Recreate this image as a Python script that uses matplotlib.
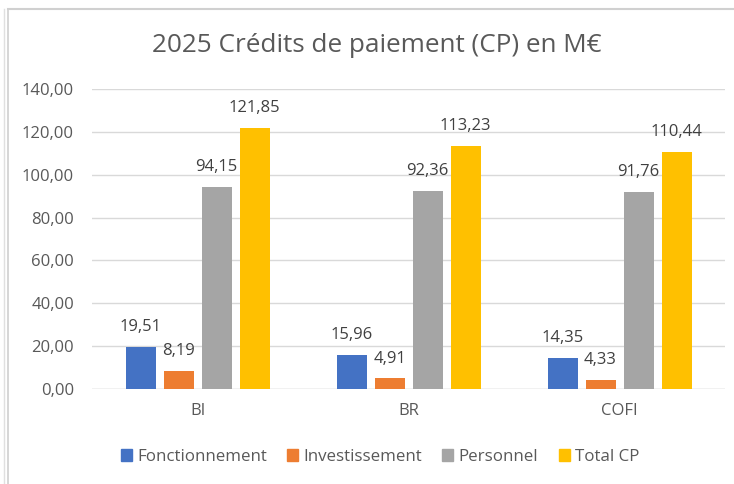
import matplotlib
matplotlib.use("Agg")
import matplotlib.pyplot as plt
import numpy as np
from matplotlib.lines import Line2D
from matplotlib.patches import Rectangle

categories = ["BI", "BR", "COFI"]
series_names = ["Fonctionnement", "Investissement", "Personnel", "Total CP"]
fonctionnement = [19.51, 15.96, 14.35]
investissement = [8.19, 4.91, 4.33]
personnel = [94.15, 92.36, 91.76]
total_cp = [121.85, 113.23, 110.44]
colors = ["#4472C4", "#ED7D31", "#A5A5A5", "#FFC000"]
yticks = [0, 20, 40, 60, 80, 100, 120, 140]

def fr(v):
    return f"{v:.2f}".replace(".", ",")

plt.rcParams['font.family'] = ['Open Sans', 'DejaVu Sans']

fig = plt.figure(figsize=(7.34, 4.84), dpi=100)
ax = fig.add_axes([92/734, 1-389/484, 633/734, 300/484])

series = [fonctionnement, investissement, personnel, total_cp]
x = np.arange(len(categories))
bw = 30/211
pitch = 38/211
for i, (vals, c) in enumerate(zip(series, colors)):
    pos = x + (i - 1.5) * pitch
    ax.bar(pos, vals, width=bw, color=c, label=series_names[i], zorder=3)
    for p, v in zip(pos, vals):
        ax.annotate(fr(v), (p, v), xytext=(0, 11.5), textcoords="offset points",
                    ha="center", va="baseline", fontsize=12, color="#404040", zorder=4)

ax.set_xlim(-0.5, 2.5)
ax.set_ylim(0, 140)
ax.set_yticks(yticks)
ax.set_yticklabels([fr(v) for v in yticks], fontsize=12, color="#595959")
ax.set_xticks(x)
ax.set_xticklabels(categories, fontsize=12, color="#595959")
ax.tick_params(axis="both", length=0)
ax.tick_params(axis="y", pad=13)
ax.tick_params(axis="x", pad=10)
ax.grid(axis="y", color="#D9D9D9", linewidth=1, zorder=0)
for s in ax.spines.values():
    s.set_visible(False)
ax.axhline(0, color="#D9D9D9", linewidth=1, zorder=2)

fig.text(377/734, 1-45/484, "2025 Crédits de paiement (CP) en M€",
         ha="center", va="center", fontsize=18.8, color="#595959")

handles = [Rectangle((0, 0), 1, 1, color=c) for c in colors]
fig.legend(handles, series_names, loc="center", bbox_to_anchor=(380/734, 1-457/484),
           ncol=4, frameon=False, fontsize=12.2, handlelength=0.65, handleheight=0.65,
           columnspacing=1.2, handletextpad=0.3, labelcolor="#595959")

# screenshot frame lines
fig.add_artist(Line2D([8/734, 1], [1-9/484, 1-9/484], color="#D0D0D0", linewidth=1.5))
fig.add_artist(Line2D([8/734, 8/734], [0, 1-9/484], color="#D0D0D0", linewidth=1.2))
fig.add_artist(Line2D([4/734, 4/734], [0, 1-9/484], color="#E0E0E0", linewidth=1))

fig.savefig("out.png", dpi=100)
